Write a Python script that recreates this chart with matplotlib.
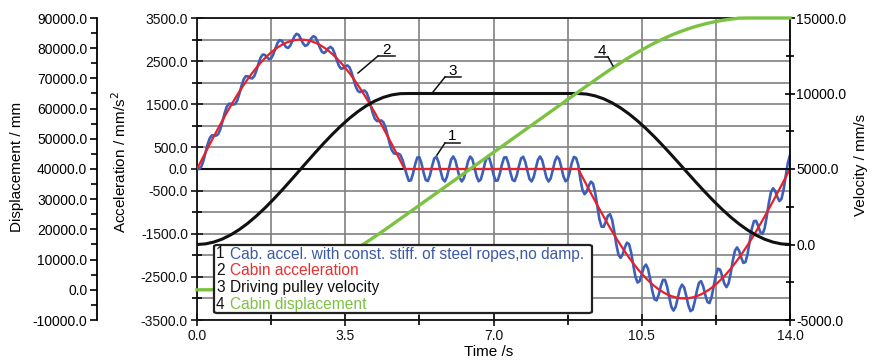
import numpy as np
import matplotlib
matplotlib.use('Agg')
import matplotlib.pyplot as plt
from matplotlib.ticker import FixedLocator, FormatStrFormatter
from matplotlib.patches import FancyBboxPatch
from matplotlib.lines import Line2D

# ---------------- data ----------------
# sample times (s)
time_blue = np.round(np.arange(0, 14.0001, 0.05), 2)   # curve 1 sampled every 0.05 s
time_red = np.round(np.arange(0, 14.0001, 0.1), 2)     # curve 2 sampled every 0.1 s
time_vd = np.round(np.arange(0, 14.0001, 0.2), 2)      # curves 3 and 4 sampled every 0.2 s

# 1: cabin acceleration with const. stiffness of steel ropes, no damping (mm/s^2)
cab_accel_undamped = [
    0, -1, 52, 184, 373, 568, 713, 779, 782, 773, 808, 919, 1094, 1286, 1437, 1511, 1514, 1493, 1505, 1589,
    1742, 1923, 2072, 2149, 2149, 2113, 2098, 2149, 2274, 2436, 2578, 2652, 2646, 2593, 2548, 2564, 2654, 2791,
    2920, 2987, 2973, 2902, 2828, 2805, 2857, 2965, 3075, 3133, 3110, 3021, 2918, 2856, 2869, 2943, 3033, 3080,
    3048, 2944, 2814, 2715, 2688, 2728, 2796,
    2831, 2792, 2676, 2523, 2391, 2326, 2333, 2377, 2402, 2358, 2236, 2066, 1906, 1806, 1781, 1805, 1821, 1777,
    1652, 1472, 1291, 1162, 1110, 1115, 1125, 1084, 965, 782, 587, 436, 361, 352, 360, 327, 219, 42, -129, -273,
    -265, -108, 108, 265, 273, 129, -87, -255, -280, -148, 66, 243, 285, 167, -44, -231, -288, -185, 22, 217,
    290, 201, 0, -201, -290, -217, -22, 185, 288, 231, 44, -167, -285, -243, -66, 148, 280, 255, 87, -129, -273,
    -265, -108, 108, 265, 273, 129, -87, -255, -280, -148, 66, 243, 285, 167, -44, -231, -288, -185,
    22, 217, 290, 201, 0, -201, -290, -217, -22, 185, 288, 231, 44, -167, -285, -243, -66, 148, 280, 255,
    97, -229, -484, -583, -524, -387, -293, -339, -550, -864, -1162, -1336, -1341, -1221, -1084, -1047, -1174,
    -1442, -1753, -1986, -2060, -1976, -1818, -1708, -1741, -1936, -2226, -2494, -2631, -2599, -2444, -2278,
    -2216, -2318, -2556, -2830, -3019, -3045, -2915, -2717, -2571, -2571, -2730, -2979, -3198, -3282, -3196,
    -2992, -2782, -2680, -2743, -2938, -3162, -3294, -3263, -3078, -2830, -2640, -2599, -2716, -2916, -3081,
    -3107, -2964, -2707, -2451, -2310, -2333, -2484, -2659, -2738, -2651, -2415, -2122, -1894, -1818, -1899,
    -2059, -2178, -2155, -1964, -1666, -1377, -1207, -1204, -1326, -1465, -1505, -1379, -1108, -787, -539,
    -447, -511, -649, -742, -690, -474, -156, 144, 320]

# 2: cabin acceleration (mm/s^2)
cabin_accel = [
    0, 192, 384, 573, 761, 945, 1126, 1302, 1472, 1637, 1794, 1945, 2087, 2221, 2345, 2461, 2565, 2660, 2743,
    2815, 2876, 2925, 2962, 2986, 2998, 2998, 2986, 2962, 2925, 2876, 2815, 2743, 2660, 2565, 2461, 2345, 2221,
    2087, 1945, 1794, 1637, 1472, 1302, 1126, 945, 761, 573, 384, 192, 0,
    0, 0, 0, 0, 0, 0, 0, 0, 0, 0, 0, 0, 0, 0, 0, 0, 0, 0, 0, 0,
    0, 0, 0, 0, 0, 0, 0, 0, 0, 0, 0, 0, 0, 0, 0, 0, 0, 0, 0, 0,
    0, -188, -376, -562, -746, -927, -1104, -1277, -1445, -1607, -1763, -1912, -2054, -2187, -2312, -2427,
    -2533, -2629, -2714, -2789, -2853, -2906, -2947, -2976, -2994, -3000, -2994, -2976, -2947, -2906, -2853,
    -2789, -2714, -2629, -2533, -2427, -2312, -2187, -2054, -1912, -1763, -1607, -1445, -1277, -1104, -927,
    -746, -562, -376, -188, 0]

# 3: driving pulley velocity (mm/s)
pulley_velocity = [
    0, 41, 164, 365, 643, 993, 1408, 1883, 2408, 2976, 3577, 4202, 4840, 5480, 6113, 6727, 7313, 7861, 8362,
    8807, 9190, 9505, 9745, 9908, 9990,
    10000, 10000, 10000, 10000, 10000, 10000, 10000, 10000, 10000, 10000, 10000, 10000, 10000, 10000, 10000,
    10000, 10000, 10000, 10000, 10000, 10000,
    9961, 9843, 9649, 9382, 9045, 8645, 8187, 7679, 7129, 6545, 5937, 5314, 4686, 4063, 3455, 2871, 2321, 1813,
    1355, 955, 618, 351, 157, 39, 0]

# 4: cabin displacement (mm), as drawn (held at the top of the axis)
cabin_displacement = [
    0, 3, 22, 73, 173, 336, 575, 903, 1331, 1869, 2524, 3301, 4205, 5237, 6397, 7681, 9086, 10604, 12227,
    13945, 15746, 17616, 19543, 21509, 23500,
    25500, 27500, 29500, 31500, 33500, 35500, 37500, 39500, 41500, 43500, 45500, 47500, 49500, 51500, 53500,
    55500, 57500, 59500, 61500, 63500, 65500,
    67497, 69479, 71429, 73334, 75177, 76947, 78632, 80219, 81700, 83068, 84317, 85442, 86442, 87317, 88068,
    88700, 89219, 89632, 89947, 90000, 90000, 90000, 90000, 90000, 90000]

time_ticks = [0, 3.5, 7, 10.5, 14]
accel_ticks = [-3500, -2500, -1500, -500, 0, 500, 1500, 2500, 3500]
vel_ticks = [-5000, 0, 5000, 10000, 15000]
disp_ticks = list(range(-10000, 90001, 10000))

legend_rows = [('1', 'Cab. accel. with const. stiff. of steel ropes,no damp.', '#3d5aa8'),
               ('2', 'Cabin acceleration', '#e83030'),
               ('3', 'Driving pulley velocity', '#111111'),
               ('4', 'Cabin displacement', '#7cc242')]

# ---------------- figure ----------------
W, H = 871, 360
plt.rcParams['font.family'] = ['Liberation Sans', 'DejaVu Sans']
fig = plt.figure(figsize=(W/100, H/100), dpi=100)
L, R, B, T = 197, 790, 320, 18
ax = fig.add_axes([L/W, 1-B/H, (R-L)/W, (B-T)/H])
ax_v = ax.twinx()
ax_d = ax.twinx()

ax.set_xlim(0, 14); ax.set_ylim(-3500, 3500)
ax_v.set_ylim(-5000, 15000); ax_d.set_ylim(-10000, 90000)

fmt = FormatStrFormatter('%.1f')
ax.xaxis.set_major_locator(FixedLocator(time_ticks))
ax.xaxis.set_minor_locator(FixedLocator([1.75, 5.25, 8.75, 12.25]))
ax.xaxis.set_major_formatter(fmt)
ax.yaxis.set_major_locator(FixedLocator(accel_ticks))
ax.yaxis.set_minor_locator(FixedLocator([-3000, -2000, -1000, 1000, 2000, 3000]))
ax.yaxis.set_major_formatter(fmt)
ax_v.yaxis.set_major_locator(FixedLocator(vel_ticks))
ax_v.yaxis.set_minor_locator(FixedLocator([-2500, 2500, 7500, 12500]))
ax_v.yaxis.set_major_formatter(fmt)
ax_d.yaxis.set_major_locator(FixedLocator(disp_ticks))
ax_d.yaxis.set_minor_locator(FixedLocator(list(range(-5000, 90000, 10000))))
ax_d.yaxis.set_major_formatter(fmt)

ax_d.spines['left'].set_visible(True)
ax_d.spines['left'].set_position(('outward', 72))
ax_d.yaxis.set_ticks_position('left')
ax_d.yaxis.set_label_position('left')
for s in ['right', 'top', 'bottom']:
    ax_d.spines[s].set_visible(False)
for s in ['left', 'top', 'bottom']:
    ax_v.spines[s].set_visible(False)
for s in ax.spines.values():
    s.set_linewidth(1.3); s.set_color('#111111')
ax_v.spines['right'].set_linewidth(1.3)
ax_d.spines['left'].set_linewidth(1.3)
ax.spines['right'].set_visible(False)

ax.tick_params(axis='both', which='major', direction='inout', length=9, width=1.2, labelsize=10, pad=2, colors='#111111')
ax.tick_params(axis='both', which='minor', direction='inout', length=7, width=1.2)
ax.tick_params(axis='y', which='both', right=False)
ax.tick_params(axis='x', which='both', top=False)
ax_v.tick_params(axis='y', which='major', direction='inout', length=7, width=1.2, labelsize=10, pad=1)
ax_v.tick_params(axis='y', which='minor', direction='inout', length=6, width=1.2)
ax_d.tick_params(axis='y', which='major', direction='out', length=5, width=1.2, labelsize=10, pad=2)
ax_d.tick_params(axis='y', which='minor', direction='out', length=4, width=1.2)

ax.grid(True, which='both', color='#808080', linewidth=1.2)
ax.set_axisbelow(True)
ax.axhline(0, color='#111111', linewidth=1.5, zorder=1.5)

ax.plot(time_blue, cab_accel_undamped, color='#3d5fb8', lw=1.9, zorder=2)
ax.plot(time_red, cabin_accel, color='#e8202a', lw=1.6, zorder=3)
ax_v.plot(time_vd, pulley_velocity, color='#111111', lw=2.2)
ax_d.plot(time_vd, cabin_displacement, color='#7cc242', lw=2.4, clip_on=False)

# curve number labels with leader lines (pixel positions converted to data units)
def px(x, y):
    return ((x-L)/(R-L)*14, (169-y)*7000/(B-T))

for num, tx, ty, u0, u1, uy, lx, ly, side in [
        ('2', 386.7, 50, 378, 395, 56, 358, 73, 0),
        ('3', 453, 71, 445, 461, 77, 433, 92, 0),
        ('1', 452, 136, 445, 460, 143, 437, 155, 0),
        ('4', 602, 51, 595, 608, 57, 613, 66, 1)]:
    ax_d.text(*px(tx, ty), num, transform=ax.transData, ha='center', va='center', fontsize=11, zorder=6)
    xa, ya = px(u0, uy); xb, yb = px(u1, uy); xl, yl = px(lx, ly)
    start = (xb, yb) if side else (xa, ya)
    ax_d.add_line(Line2D([xl, start[0]], [yl, start[1]], color='#111111', lw=1.1, transform=ax.transData))
    ax_d.add_line(Line2D([xa, xb], [ya, yb], color='#111111', lw=1.1, transform=ax.transData))

# legend box
box = FancyBboxPatch((214/W, 1-313/H), (592-214)/W, (313-245)/H, boxstyle='round,pad=0,rounding_size=0.004',
                     transform=fig.transFigure, facecolor='white', edgecolor='#222222', linewidth=1.6, zorder=5)
fig.patches.append(box)
for i, (n, txt, c) in enumerate(legend_rows):
    yy = 1-(254+i*16.8)/H
    fig.text(216/W, yy, n, color='#111111', fontsize=11.2, va='center', ha='left', zorder=6)
    fig.text(230/W, yy, txt, color=c, fontsize=11.2, va='center', ha='left', zorder=6)

fig.text(17/W, 1-167/H, 'Displacement / mm', rotation=90, ha='center', va='center', fontsize=11)
fig.text(120/W, 1-162/H, 'Acceleration / mm/s$^2$', rotation=90, ha='center', va='center', fontsize=11)
fig.text(861/W, 1-165/H, 'Velocity / mm/s', rotation=90, ha='center', va='center', fontsize=11)
fig.text(489/W, 1-352/H, 'Time /s', ha='center', va='center', fontsize=11)

fig.savefig('out.png', dpi=100)
